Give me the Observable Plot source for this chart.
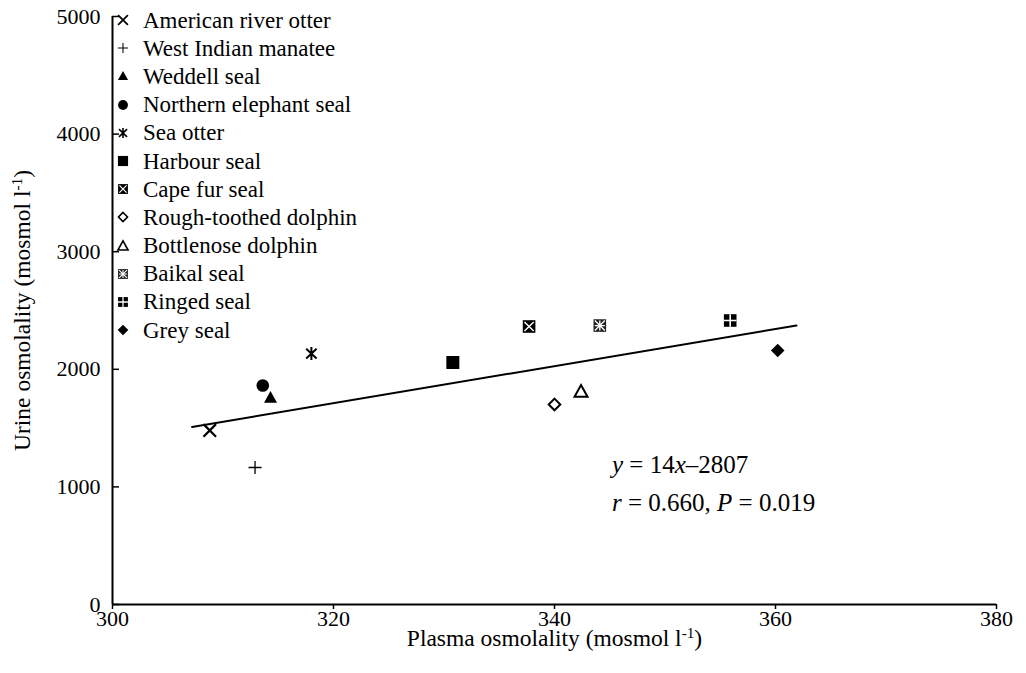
<!DOCTYPE html>
<html><head><meta charset="utf-8">
<script src="https://cdn.jsdelivr.net/npm/d3@7"></script>
<script src="https://cdn.jsdelivr.net/npm/@observablehq/plot@0.6"></script>
<style>
body{margin:0;background:#fff;}
#wrap{position:relative;width:1026px;height:673px;}
#legend{position:absolute;left:113px;top:6px;font-family:"Liberation Serif","Times New Roman",serif;font-size:23px;color:#000;line-height:1;}
.row{height:28.2px;display:flex;align-items:center;white-space:nowrap;}
.row svg{width:20px;height:20px;margin-right:10px;flex:none;}
</style></head><body><div id="wrap"><div id="legend"></div></div>
<script>
// ---- data ----
const species = ["American river otter","West Indian manatee","Weddell seal","Northern elephant seal","Sea otter","Harbour seal","Cape fur seal","Rough-toothed dolphin","Bottlenose dolphin","Baikal seal","Ringed seal","Grey seal"];
const plasma = [308.8, 312.9, 314.3, 313.6, 318.0, 330.8, 337.7, 340.0, 342.4, 344.1, 355.9, 360.2];
const urine  = [1480, 1165, 1760, 1862, 2134, 2058, 2364, 1701, 1811, 2372, 2415, 2160];
const fitPlasma = [307.2, 361.9];
const fitUrine = [1510, 2372];
const xTicks = [300, 320, 340, 360, 380];
const yTicks = [0, 1000, 2000, 3000, 4000, 5000];
const xLabel = "Plasma osmolality (mosmol l-1)";
const yLabel = "Urine osmolality (mosmol l-1)";
const eqText = "y = 14x–2807";
const statText = "r = 0.660, P = 0.019";
const eqPos = {x: 345.2, y: 1182};
const statPos = {x: 345.2, y: 860};

// ---- symbols ----
function mk(f){return {draw(c,size){const r=Math.sqrt(size/Math.PI); f(c,r);}};}
const S = {
  times: mk((c,r)=>{c.moveTo(-r,-r);c.lineTo(r,r);c.moveTo(r,-r);c.lineTo(-r,r);}),
  plus: mk((c,r)=>{c.moveTo(0,-r);c.lineTo(0,r);c.moveTo(-r,0);c.lineTo(r,0);}),
  star: mk((c,r)=>{c.moveTo(-r,-r);c.lineTo(r,r);c.moveTo(r,-r);c.lineTo(-r,r);c.moveTo(0,-r);c.lineTo(0,r);c.moveTo(-r,0);c.lineTo(r,0);}),
  asterisk: mk((c,r)=>{const a=r*0.8;c.moveTo(-a,-r*0.75);c.lineTo(a,r*0.75);c.moveTo(a,-r*0.75);c.lineTo(-a,r*0.75);c.moveTo(0,-r);c.lineTo(0,r);}),
  tri: mk((c,r)=>{c.moveTo(0,-r);c.lineTo(r,r*0.8);c.lineTo(-r,r*0.8);c.closePath();}),
  square: mk((c,r)=>{c.moveTo(-r,-r);c.lineTo(r,-r);c.lineTo(r,r);c.lineTo(-r,r);c.closePath();}),
  diamond: mk((c,r)=>{c.moveTo(0,-r);c.lineTo(r,0);c.lineTo(0,r);c.lineTo(-r,0);c.closePath();}),
  circle: mk((c,r)=>{c.moveTo(r,0);c.arc(0,0,r,0,2*Math.PI);}),
};
const K = "#000", W = "#fff";
const styles = [
  [{s:S.times, r:6.3, fill:"none", stroke:K, sw:2.2}],
  [{s:S.plus, r:6.5, fill:"none", stroke:K, sw:1.3}],
  [{s:S.tri, r:6.5, fill:K, stroke:"none", sw:0}],
  [{s:S.circle, r:6.3, fill:K, stroke:"none", sw:0}],
  [{s:S.asterisk, r:6.5, fill:"none", stroke:K, sw:2}],
  [{s:S.square, r:6.5, fill:K, stroke:"none", sw:0}],
  [{s:S.square, r:6.3, fill:K, stroke:"none", sw:0},{s:S.times, r:4.6, fill:"none", stroke:W, sw:1.4}],
  [{s:S.diamond, r:5.8, fill:W, stroke:K, sw:2}],
  [{s:S.tri, r:6.5, fill:W, stroke:K, sw:2}],
  [{s:S.square, r:6.3, fill:"#222", stroke:"none", sw:0},{s:S.star, r:5, fill:"none", stroke:W, sw:1.3}],
  [{s:S.square, r:6.3, fill:K, stroke:"none", sw:0},{s:S.plus, r:6.3, fill:"none", stroke:W, sw:1.6}],
  [{s:S.diamond, r:6.8, fill:K, stroke:"none", sw:0}],
];

const idx = d3.range(species.length);
const dotMarks = [];
idx.forEach(i => styles[i].forEach(L => {
  dotMarks.push(Plot.dot([i], {x: j=>plasma[j], y: j=>urine[j], symbol: L.s, r: L.r, fill: L.fill, stroke: L.stroke, strokeWidth: L.sw}));
}));

const chart = Plot.plot({
  width: 1026, height: 673,
  marginLeft: 112, marginRight: 30, marginTop: 16, marginBottom: 69,
  style: {fontFamily: "'Liberation Serif', 'Times New Roman', serif", fontSize: "22px", color: "#000", background: "#fff"},
  x: {domain: [300, 380]},
  y: {domain: [0, 5000]},
  marks: [
    Plot.axisX({ticks: xTicks, tickSize: 5, tickPadding: 1, label: null, strokeWidth: 1.5, tickFormat: d => String(d)}),
    Plot.axisY({ticks: yTicks, tickSize: 0, tickPadding: 12, label: null, tickFormat: d => String(d)}),
    Plot.ruleY(yTicks, {insetRight: 877, strokeWidth: 1.5}),
    Plot.ruleX([300], {strokeWidth: 2}),
    Plot.ruleY([0], {strokeWidth: 2}),
    Plot.line(fitPlasma.map((p,k)=>({p, u: fitUrine[k]})), {x: "p", y: "u", stroke: K, strokeWidth: 2}),
    ...dotMarks,
    Plot.text([eqText], {x: eqPos.x, y: eqPos.y, text: d=>d, textAnchor: "start", fontSize: 25}),
    Plot.text([statText], {x: statPos.x, y: statPos.y, text: d=>d, textAnchor: "start", fontSize: 25}),
    Plot.text([xLabel], {frameAnchor: "bottom", dy: 34, lineAnchor: "middle", textAnchor: "middle", text: d=>d, fontSize: 23.5}),
    Plot.text([yLabel], {frameAnchor: "left", dx: -90, rotate: -90, lineAnchor: "middle", textAnchor: "middle", text: d=>d, fontSize: 23.5}),
  ]
});
document.getElementById("wrap").prepend(chart);
chart.style.position = "absolute"; chart.style.left = "0"; chart.style.top = "0";

function rich(plain, parts){
  d3.select(chart).selectAll("text").filter(function(){return this.textContent===plain;}).each(function(){
    const t = d3.select(this); t.text(null);
    parts.forEach(p => {
      const s = t.append("tspan").text(p.t);
      if (p.i) s.attr("font-style","italic");
      if (p.sup) s.attr("baseline-shift","super").attr("font-size","0.65em");
    });
  });
}
rich(xLabel, [{t:"Plasma osmolality (mosmol l"},{t:"-1",sup:1},{t:")"}]);
rich(yLabel, [{t:"Urine osmolality (mosmol l"},{t:"-1",sup:1},{t:")"}]);
rich(eqText, [{t:"y",i:1},{t:" = 14"},{t:"x",i:1},{t:"–2807"}]);
rich(statText, [{t:"r",i:1},{t:" = 0.660, "},{t:"P",i:1},{t:" = 0.019"}]);

// ---- legend ----
const leg = d3.select("#legend");
idx.forEach(i => {
  const row = leg.append("div").attr("class","row");
  const g = row.append("svg").attr("viewBox","-10 -10 20 20").append("g");
  styles[i].forEach(L => {
    const rr = L.r*0.78;
    g.append("path").attr("d", d3.symbol(L.s, rr*rr*Math.PI)())
      .attr("fill", L.fill).attr("stroke", L.stroke).attr("stroke-width", L.sw*0.8);
  });
  row.append("span").text(species[i]);
});
</script></body></html>
